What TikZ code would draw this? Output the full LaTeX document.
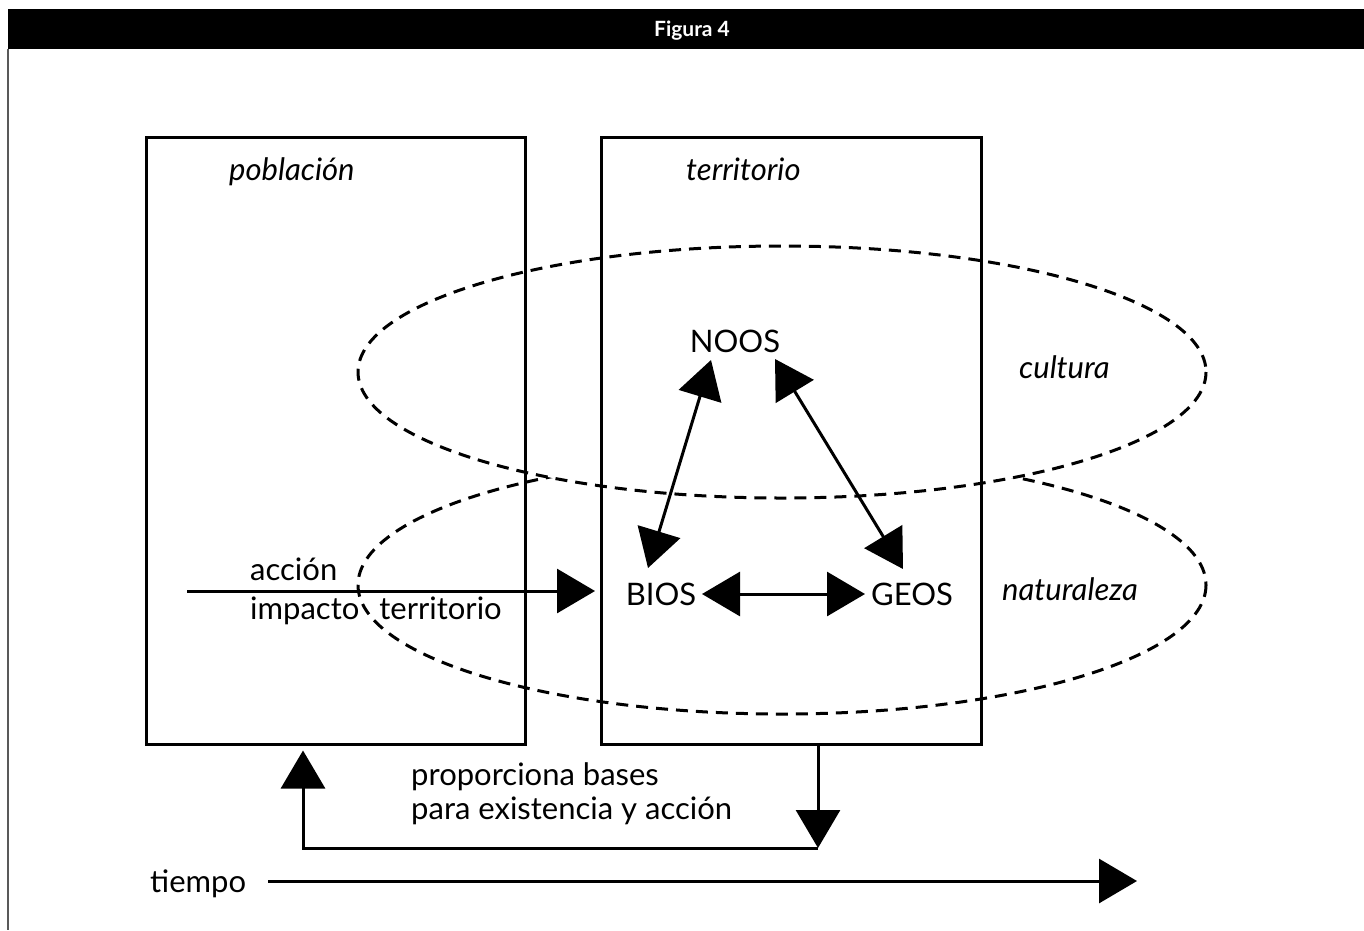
\documentclass[tikz,border=0pt]{standalone}
\usepackage{fontspec}
\setmainfont{Lato}
\usetikzlibrary{arrows.meta}
\begin{document}
\begin{tikzpicture}[x=1pt,y=-1pt,
  frame/.style={draw, line width=3pt, inner sep=0pt, minimum height=607pt},
  zone/.style={draw, line width=3pt, dash pattern=on 12pt off 8pt},
  link/.style={line width=3pt},
  head/.style={-{Triangle[length=38pt,width=44pt]}},
  both/.style={{Triangle[length=38pt,width=44pt]}-{Triangle[length=38pt,width=44pt]}},
  lbl/.style={anchor=base west, inner sep=0pt, font=\fontsize{31}{34}\selectfont},
  ilbl/.style={anchor=base west, inner sep=0pt, font=\fontsize{31}{34}\selectfont\itshape},
  term/.style={anchor=base, inner sep=0pt, font=\fontsize{31}{34}\selectfont},
]
\useasboundingbox (0,0) rectangle (1364,930);

% title bar and left rule
\fill (8,9) rectangle (1364,49);
\node[text=white, inner sep=0pt, anchor=base, font=\fontsize{21}{24}\selectfont\bfseries] (fig) at (692,36) {Figura 4};
\draw[black!65, line width=2pt] (8,49) -- (8,930);

% the two dashed zones: naturaleza below, cultura above (white fill hides the overlap)
\draw[zone] (782,585) ellipse [x radius=424, y radius=129];
\draw[zone, fill=white] (782,372) ellipse [x radius=424, y radius=126];

% the two frames
\node[frame, minimum width=379pt] (pob) at (335.5,440.5) {};
\node[frame, minimum width=380pt] (terr) at (791,440.5) {};

% labels
\node[ilbl] (lpob) at (229,180) {población};
\node[ilbl] (lterr) at (686,180) {territorio};
\node[ilbl] (lcult) at (1019,378) {cultura};
\node[ilbl] (lnat) at (1002,600) {naturaleza};

% the three terms
\node[term] (noos) at (735,352) {NOOS};
\node[term] (bios) at (661,605) {BIOS};
\node[term] (geos) at (912,605) {GEOS};

\draw[link, both] ([xshift=41pt, yshift=11pt]bios.base) -- ([xshift=-47pt, yshift=11pt]geos.base);
\draw[link, both] ([xshift=-24pt, yshift=-8pt]noos.base) -- ([xshift=-13pt, yshift=37pt]bios.base);
\draw[link, both] ([xshift=40pt, yshift=-7pt]noos.base) -- ([xshift=-9pt, yshift=36pt]geos.base);

% action of the population on the territory
\node[lbl] (accion) at (250,580) {acción};
\node[lbl] (impacto) at (250,619) {impacto\hspace{20pt}territorio};
\coordinate (a0) at (187,591);
\draw[link, head] (a0) -- ([xshift=-66pt]bios.base |- a0);

% feedback loop
\node[lbl] (prop1) at (411,785) {proporciona bases};
\node[lbl] (prop2) at (411,819) {para existencia y acción};
\coordinate (fb) at (818,848);
\coordinate (fbl) at (303,848);
\draw[link, head] (terr.south -| fb) -- (fb);
\draw[link, head] (fb) -- (fbl) -- ([yshift=-5pt]pob.south -| fbl);

% time axis
\node[lbl] (tiempo) at (150,892) {tiempo};
\coordinate (t0) at (268,881);
\coordinate (t1) at (1137,881);
\draw[link, head] (t0) -- (t1);
\end{tikzpicture}
\end{document}
